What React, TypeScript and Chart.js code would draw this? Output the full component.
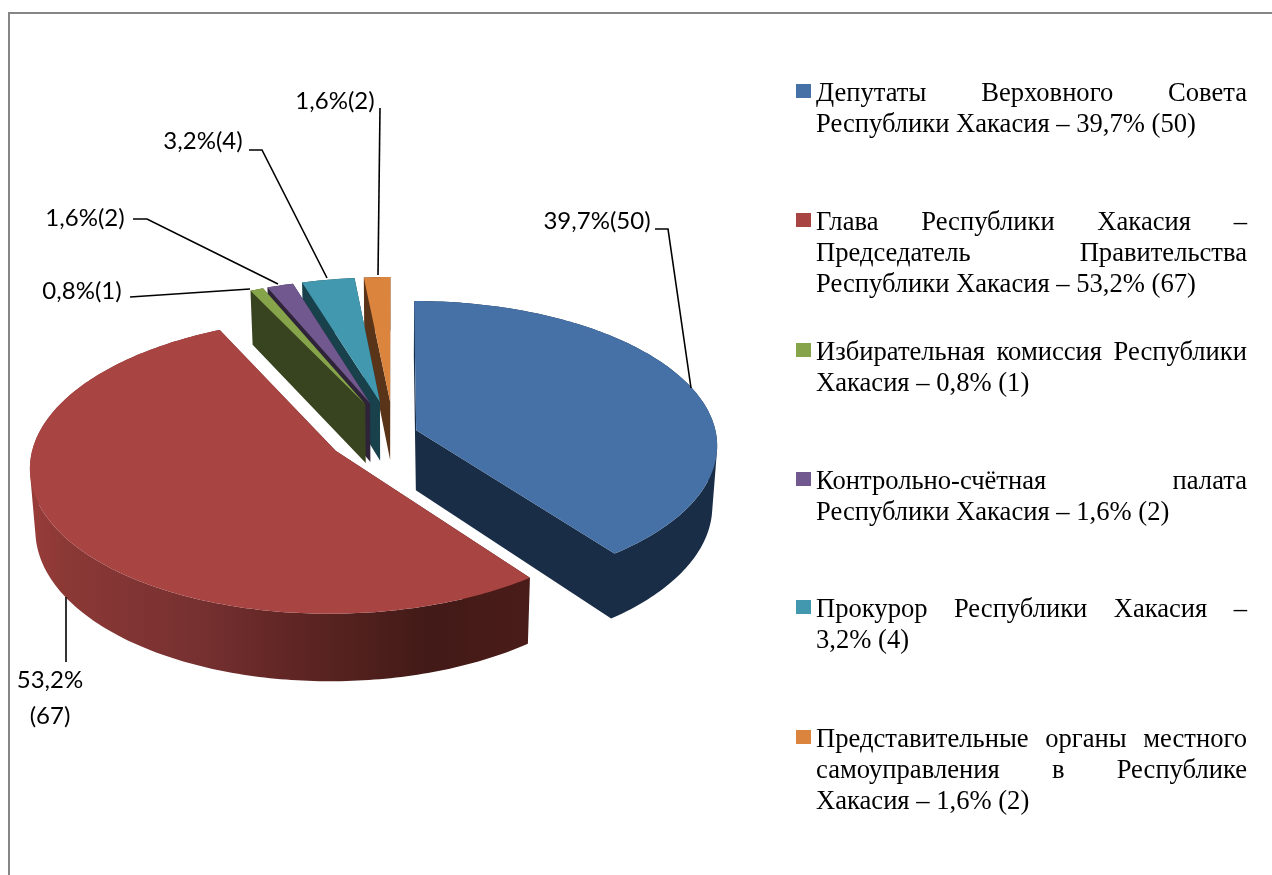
import React, { useEffect, useRef } from "react";
import { Chart, registerables } from "chart.js";

Chart.register(...registerables);

const categories = [
  "Депутаты Верховного Совета Республики Хакасия",
  "Глава Республики Хакасия – Председатель Правительства Республики Хакасия",
  "Избирательная комиссия Республики Хакасия",
  "Контрольно-счётная палата Республики Хакасия",
  "Прокурор Республики Хакасия",
  "Представительные органы местного самоуправления в Республике Хакасия",
];
const values = [50, 67, 1, 2, 4, 2];
const percents = ["39,7%", "53,2%", "0,8%", "1,6%", "3,2%", "1,6%"];
const explode = [24, 67, 70, 70, 70, 70];
const topColors = ["#4571a6", "#a84442", "#86a44a", "#71588f", "#4198af", "#db843d"];
const wallColors = ["#1a2d47", "#7a302e", "#38431f", "#2e2339", "#18414c", "#5a3418"];
const legendLines = [
  ["Депутаты Верховного Совета", "Республики Хакасия – 39,7% (50)"],
  ["Глава Республики Хакасия –", "Председатель Правительства", "Республики Хакасия – 53,2% (67)"],
  ["Избирательная комиссия Республики", "Хакасия – 0,8% (1)"],
  ["Контрольно-счётная палата", "Республики Хакасия – 1,6% (2)"],
  ["Прокурор Республики Хакасия –", "3,2% (4)"],
  ["Представительные органы местного", "самоуправления в Республике", "Хакасия – 1,6% (2)"],
];
const legendTops = [77, 206, 336, 465, 593, 723];

// label placement: text centre lines, then leader polyline
const labelPlacement = [
  { x: 597, y: [221], leader: [[655, 229], [668, 229], [691, 388]] },
  { x: 50, y: [680, 716], leader: [[66, 597], [66, 662]] },
  { x: 82, y: [291], leader: [[130, 297], [250, 289]] },
  { x: 85, y: [218], leader: [[133, 219], [147, 219], [278, 284]] },
  { x: 203, y: [141], leader: [[249, 150], [262, 150], [327, 278]] },
  { x: 335, y: [101], leader: [[380, 108], [378, 275]] },
];

const TILT = 0.4767;
const PERSPECTIVE = 0.1;
const DEPTH = 60;
const LOWER_SHRINK = 0.985;
const drawOrder = [5, 4, 3, 2, 1, 0];

const pie3d = {
  id: "pie3d",
  beforeDatasetDraw(chart: any) {
    const ctx = chart.ctx;
    const arcs = chart.getDatasetMeta(0).data;
    const proj = (ox: number, oy: number, r: number, a: number, b: number, lower: boolean) => {
      const w = 1 / (1 - (PERSPECTIVE * b) / r);
      return [ox + a * w * (lower ? LOWER_SHRINK : 1), oy + b * TILT * w + (lower ? DEPTH * w : 0)];
    };
    for (const i of drawOrder) {
      const arc = arcs[i];
      const { x, y, outerRadius: r, startAngle, endAngle } = arc;
      const mid = (startAngle + endAngle) / 2;
      const d = arc.options.offset;
      const ax = Math.cos(mid) * d;
      const ay = Math.sin(mid) * d;
      const n = Math.max(6, Math.ceil((endAngle - startAngle) * 60));
      const plane: number[][] = [[ax, ay]];
      for (let s = 0; s <= n; s++) {
        const t = startAngle + ((endAngle - startAngle) * s) / n;
        plane.push([ax + Math.cos(t) * r, ay + Math.sin(t) * r]);
      }
      const top = plane.map(([a, b]) => proj(x, y, r, a, b, false));
      const low = plane.map(([a, b]) => proj(x, y, r, a, b, true));
      let wall: any = wallColors[i];
      if (i === 1) {
        const g = ctx.createLinearGradient(32, 0, 527, 0);
        g.addColorStop(0, "#983c39");
        g.addColorStop(0.06, "#8c3936");
        g.addColorStop(0.34, "#763030");
        g.addColorStop(0.54, "#5e2523");
        g.addColorStop(0.8, "#421a17");
        g.addColorStop(1, "#4a1c19");
        wall = g;
      }
      // every side quad joins one path, wound the same way, so there are no seams
      ctx.fillStyle = wall;
      ctx.beginPath();
      for (let s = 0; s < top.length; s++) {
        const e = (s + 1) % top.length;
        let quad = [top[s], top[e], low[e], low[s]];
        let area = 0;
        quad.forEach((p, k) => {
          const q = quad[(k + 1) % 4];
          area += p[0] * q[1] - q[0] * p[1];
        });
        if (area < 0) quad = quad.reverse();
        quad.forEach(([px, py], k) => (k ? ctx.lineTo(px, py) : ctx.moveTo(px, py)));
        ctx.closePath();
      }
      ctx.fill();
      ctx.fillStyle = arc.options.backgroundColor;
      ctx.beginPath();
      top.forEach(([px, py], k) => (k ? ctx.lineTo(px, py) : ctx.moveTo(px, py)));
      ctx.closePath();
      ctx.fill();
    }
    return false;
  },
  afterDatasetsDraw(chart: any) {
    const ctx = chart.ctx;
    ctx.save();
    ctx.strokeStyle = "#868686";
    ctx.lineWidth = 2;
    ctx.beginPath();
    ctx.moveTo(9, 875);
    ctx.lineTo(9, 13);
    ctx.lineTo(1272, 13);
    ctx.stroke();
    ctx.strokeStyle = "#000";
    ctx.lineWidth = 1.6;
    ctx.fillStyle = "#000";
    ctx.font = "24px Lato";
    ctx.textAlign = "center";
    ctx.textBaseline = "middle";
    labelPlacement.forEach((p, i) => {
      ctx.beginPath();
      p.leader.forEach(([a, b], k) => (k ? ctx.lineTo(a, b) : ctx.moveTo(a, b)));
      ctx.stroke();
      const text = i === 1 ? [percents[i], `(${values[i]})`] : [`${percents[i]}(${values[i]})`];
      text.forEach((t, k) => ctx.fillText(t, p.x, p.y[k]));
    });
    ctx.restore();
  },
};

export default function App() {
  const ref = useRef<HTMLCanvasElement>(null);
  useEffect(() => {
    const chart = new Chart(ref.current!, {
      type: "pie",
      data: {
        labels: categories,
        datasets: [{ data: values, backgroundColor: topColors, offset: explode, borderWidth: 0 }],
      },
      options: {
        responsive: false,
        animation: false,
        events: [],
        radius: 300,
        layout: { padding: { left: 93.5, right: 578.5, top: 134, bottom: 141 } },
        plugins: { legend: { display: false }, tooltip: { enabled: false } },
      } as any,
      plugins: [pie3d as any],
    });
    return () => chart.destroy();
  }, []);
  return (
    <div style={{ position: "absolute", left: 0, top: 0, width: 1272, height: 875, overflow: "hidden", background: "#fff" }}>
      <canvas ref={ref} width={1272} height={875} style={{ display: "block" }} />
      {legendLines.map((lines, i) => (
        <div key={i} style={{ position: "absolute", left: 0, top: legendTops[i] }}>
          <div style={{ position: "absolute", left: 796, top: 7, width: 15, height: 14, background: topColors[i] }} />
          <div style={{ position: "absolute", left: 816, top: 0, width: 431, font: "26.6px/31px 'Liberation Serif'", color: "#000" }}>
            {lines.map((l, k) => (
              <div key={k} style={{ textAlign: k === lines.length - 1 ? "left" : "justify", textAlignLast: k === lines.length - 1 ? "left" : "justify", whiteSpace: "nowrap" }}>{l}</div>
            ))}
          </div>
        </div>
      ))}
    </div>
  );
}
